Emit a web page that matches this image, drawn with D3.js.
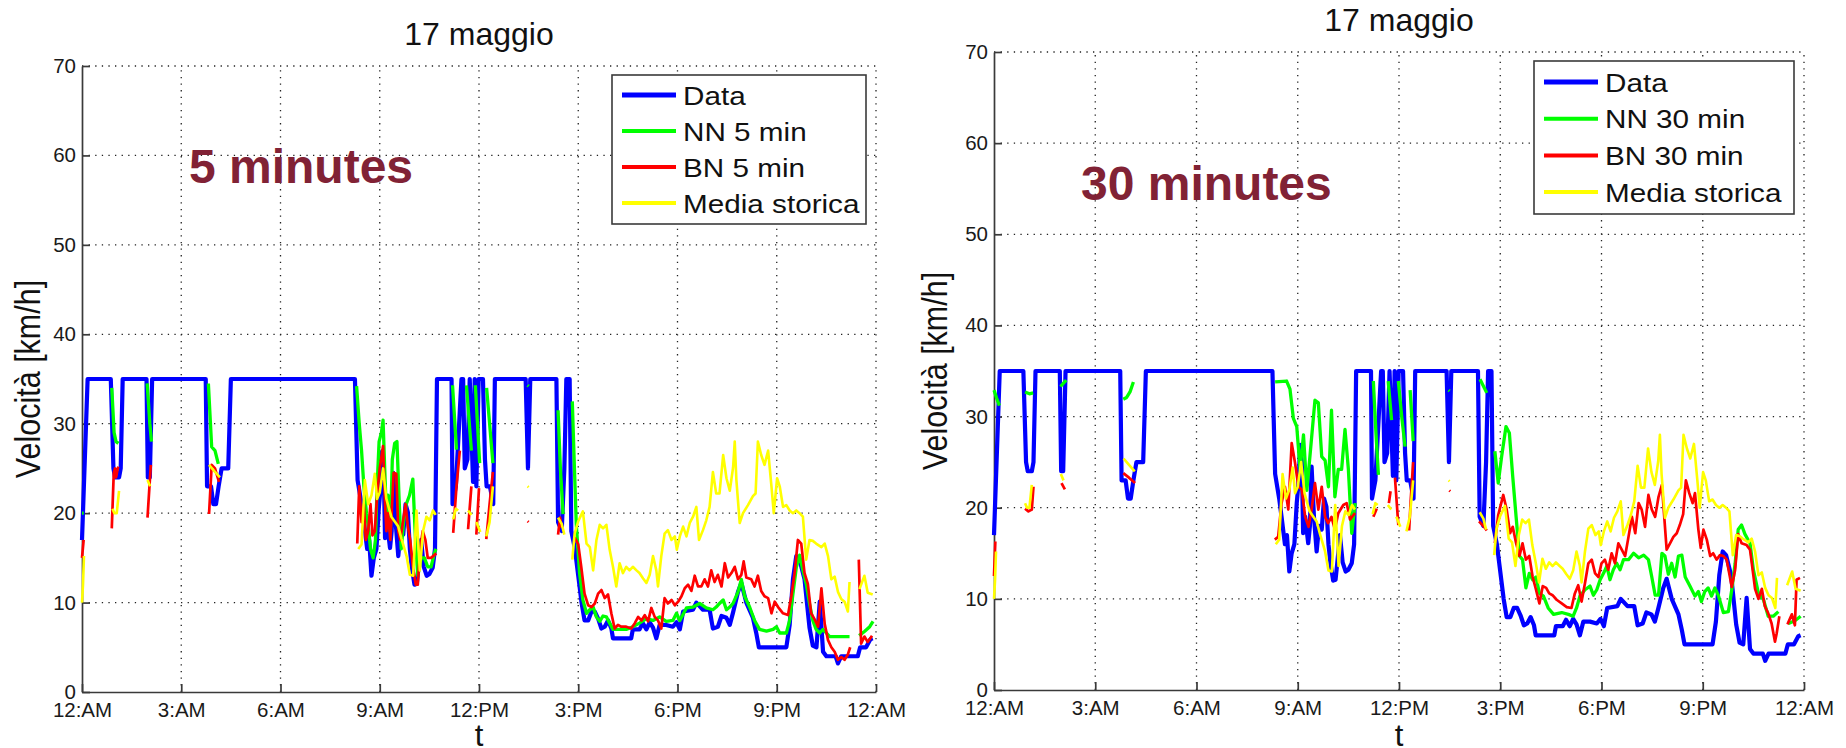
<!DOCTYPE html>
<html>
<head>
<meta charset="utf-8">
<script src="https://cdn.jsdelivr.net/npm/d3@7"></script>
<style>
  body { margin: 0; background: #fff; }
  text { font-family: "Liberation Sans", Arial, sans-serif; }
</style>
</head>
<body>
<svg id="chart" width="1846" height="748"></svg>
<script>
// axis ticks
const hourTicks = [0, 3, 6, 9, 12, 15, 18, 21, 24]
const hourLabels = ["12:AM", "3:AM", "6:AM", "9:AM", "12:PM", "3:PM", "6:PM", "9:PM", "12:AM"]
const speedTicks = [0, 10, 20, 30, 40, 50, 60, 70]

// measured speed, [hour, km/h]
const dataSpeed = [[0, 17], [0.17, 35], [0.87, 35], [0.95, 25], [1.0, 24], [1.12, 24], [1.17, 25], [1.23, 35],
  [1.95, 35], [1.99, 24], [2.05, 24], [2.12, 35], [3.74, 35], [3.78, 23], [3.9, 23], [3.97, 21], [4.05, 21],
  [4.13, 23], [4.22, 25], [4.42, 25], [4.5, 35], [8.25, 35],
  [8.33, 23.7], [8.45, 21], [8.52, 19], [8.62, 16], [8.68, 17], [8.75, 13], [8.82, 15], [8.9, 16], [8.97, 20.5],
  [9.03, 23], [9.07, 26.9], [9.12, 25], [9.16, 17.2], [9.22, 19], [9.31, 16.1], [9.36, 18], [9.41, 24.5],
  [9.48, 19], [9.56, 15.2], [9.63, 18], [9.71, 17.6], [9.78, 21], [9.85, 20.1], [9.91, 16], [9.97, 13.9],
  [10.05, 12], [10.12, 12.1], [10.2, 15], [10.25, 17], [10.33, 14], [10.42, 13], [10.5, 13.2], [10.6, 13.9],
  [10.67, 16], [10.73, 35], [11.17, 35], [11.2, 21], [11.3, 23], [11.4, 30], [11.47, 35], [11.52, 35],
  [11.57, 25], [11.65, 26], [11.72, 35], [11.82, 23.5], [11.87, 35], [11.92, 23], [11.99, 35], [12.12, 35],
  [12.18, 26], [12.23, 23], [12.33, 23], [12.43, 21], [12.48, 35], [13.41, 35], [13.48, 25], [13.55, 35],
  [14.34, 35], [14.39, 19], [14.5, 18], [14.58, 25], [14.64, 35], [14.74, 35], [14.79, 18], [14.9, 16],
  [15.0, 13], [15.1, 10], [15.19, 8], [15.3, 8], [15.4, 9], [15.5, 9], [15.6, 8.2], [15.7, 7.1], [15.8, 7.3],
  [15.9, 8], [16.0, 7.1], [16.05, 6], [16.6, 6], [16.65, 7], [16.85, 7], [16.95, 7.7], [17.06, 7], [17.16, 7.8],
  [17.26, 7.2], [17.36, 6], [17.46, 7.5], [17.66, 7.5], [17.86, 7.3], [17.97, 7.8], [18.07, 7], [18.17, 9],
  [18.47, 9.2], [18.57, 10], [18.77, 9.2], [18.97, 9.2], [19.07, 7.1], [19.22, 7.3], [19.33, 8.5], [19.48, 8.3],
  [19.58, 7.5], [19.68, 8.9], [19.83, 11.2], [19.93, 12.2], [20.08, 10], [20.28, 8.3], [20.38, 6.6], [20.46, 5],
  [21.29, 5], [21.39, 7.5], [21.49, 12.6], [21.59, 15.2], [21.69, 14.8], [21.84, 12.6], [21.99, 7.2],
  [22.09, 5.2], [22.2, 5], [22.3, 10.1], [22.4, 4.5], [22.5, 4], [22.78, 4], [22.85, 3.2], [22.95, 4],
  [23.45, 4], [23.52, 5], [23.7, 5], [23.83, 5.9], [23.9, 6]]

// historical mean, null = gap
const mediaSpeed = [[0, 10], [0.03, 12], [0.06, 15.2], null,
  [0.92, 20.5], [0.98, 20], [1.05, 20], [1.12, 22.5], null,
  [1.98, 23.7], [2.06, 23], null,
  [3.84, 25.4], [4.0, 24.7], [4.17, 24], null,
  [8.35, 16], [8.45, 16.5], [8.55, 23.7], [8.65, 21], [8.75, 22], [8.85, 24.4], [8.92, 21.6], [9.0, 22.3],
  [9.1, 25], [9.2, 21.6], [9.35, 19.6], [9.56, 18.5], [9.66, 17.1], [9.81, 15.2], [9.91, 13.1], [10.01, 13],
  [10.11, 20.3], [10.21, 13.6], [10.31, 18], [10.41, 19.6], [10.51, 19.2], [10.61, 20.3], [10.69, 19.8], null,
  [11.22, 19.3], [11.3, 20.5], [11.37, 20.3], null,
  [11.67, 20.3], [11.77, 19.8], null,
  [11.92, 19], [12.04, 17.9], null,
  [12.22, 17.4], [12.32, 19], [12.42, 23], null,
  [13.47, 23], [13.5, 22.9], null,
  [14.39, 19.5], [14.5, 18.8], [14.58, 17.6], null,
  [14.82, 14.8], [14.89, 17.7], [15.0, 19.1], [15.14, 20.2], [15.25, 16.6], [15.35, 16.2], [15.45, 13.6],
  [15.55, 17], [15.65, 18.7], [15.75, 18.3], [15.85, 18.7], [15.95, 15.9], [16.05, 14], [16.15, 11.8],
  [16.25, 14.4], [16.35, 13.3], [16.45, 14], [16.55, 13.6], [16.65, 14], [16.76, 13.6], [16.85, 13.3],
  [16.96, 12.7], [17.06, 12.2], [17.16, 13.1], [17.26, 15.2], [17.36, 13.6], [17.41, 11.8], [17.51, 15.2],
  [17.61, 17.7], [17.71, 18.1], [17.82, 17], [17.92, 17.4], [17.98, 15.9], [18.07, 17.4], [18.17, 18.5],
  [18.27, 17.4], [18.37, 18.9], [18.47, 19.6], [18.57, 20.7], [18.65, 17], [18.77, 18.1], [18.87, 19.2],
  [18.97, 20.7], [19.07, 24.6], [19.17, 22.2], [19.27, 22.2], [19.38, 26.5], [19.48, 23.9], [19.58, 22.5],
  [19.68, 25.1], [19.73, 28], [19.78, 23.7], [19.88, 18.9], [19.98, 20], [20.13, 20.9], [20.28, 21.9],
  [20.36, 22.2], [20.43, 28], [20.53, 26.5], [20.63, 25.4], [20.74, 27], [20.84, 23], [20.91, 20],
  [21.01, 23.9], [21.09, 23], [21.19, 20.7], [21.29, 20.9], [21.39, 20.3], [21.49, 20], [21.59, 20.3],
  [21.69, 20], [21.79, 19.6], [21.89, 14.8], [21.99, 17], [22.09, 16.9], [22.19, 16.6], [22.35, 16.2],
  [22.45, 16.6], [22.55, 15.2], [22.65, 12.6], [22.75, 12.9], [22.85, 11.2], [22.95, 10.4], [23.05, 10.1],
  [23.15, 9], [23.2, 12.3], null,
  [23.5, 11.5], [23.65, 13], [23.75, 11.1], [23.9, 10.9]]

// neural network, 5 min horizon
const nn5 = [[0, 20], [0.05, 20], null,
  [0.9, 34], [0.97, 29], [1.03, 28], [1.1, 27.8], null,
  [1.97, 34.5], [2.05, 30], [2.1, 28], null,
  [3.82, 34.5], [3.92, 27.4], [4.02, 27], [4.12, 25.5], null,
  [8.3, 34.2], [8.38, 30], [8.45, 27], [8.52, 23], [8.6, 20], [8.67, 18], [8.72, 16], [8.8, 15], [8.87, 17],
  [8.92, 23], [8.98, 28], [9.05, 29], [9.1, 30.4], [9.15, 25], [9.2, 20], [9.25, 22], [9.32, 18], [9.38, 26],
  [9.45, 27.8], [9.52, 28], [9.58, 22], [9.65, 16], [9.72, 19], [9.8, 21], [9.9, 22], [10.0, 23.8], [10.08, 17],
  [10.15, 13], [10.25, 15], [10.35, 15], [10.45, 14], [10.55, 14], [10.65, 15.5], [10.7, 16], null,
  [11.2, 34.3], [11.32, 27.1], null,
  [11.62, 34.3], [11.77, 27], null,
  [11.89, 34.3], [12.02, 25.6], null,
  [12.23, 34], [12.42, 25.6], null,
  [13.47, 34.3], [13.5, 34.2], null,
  [14.39, 31.5], [14.46, 25], [14.54, 19.9], null,
  [14.82, 32.5], [14.89, 24.4], [14.94, 18.8], [15.04, 13.3], [15.14, 10.3], [15.25, 8.8], [15.35, 9.2],
  [15.45, 9.5], [15.55, 8.4], [15.65, 7.9], [15.75, 8.5], [15.85, 8.4], [15.95, 7.7], [16.05, 7], [16.25, 7],
  [16.45, 7], [16.65, 7.3], [16.85, 7.7], [17.06, 8.2], [17.26, 8], [17.46, 8.4], [17.66, 7.9], [17.86, 8],
  [17.97, 8.8], [18.07, 8], [18.27, 9.4], [18.47, 9.5], [18.67, 9.9], [18.87, 9.4], [19.07, 9.2], [19.17, 9.5],
  [19.27, 9.9], [19.38, 10.3], [19.48, 9.2], [19.58, 9.5], [19.68, 9.9], [19.83, 11.2], [19.93, 12.6],
  [20.03, 10.7], [20.18, 9.5], [20.33, 8], [20.48, 7], [20.69, 6.8], [20.89, 7], [20.99, 7.3], [21.09, 6.6],
  [21.29, 6.6], [21.39, 8], [21.49, 11], [21.59, 13.9], [21.69, 15.3], [21.79, 13.6], [21.89, 12.1],
  [21.99, 9.9], [22.09, 8], [22.19, 7], [22.3, 6.6], [22.4, 7], [22.6, 6.2], [23.2, 6.2], null,
  [23.49, 6.3], [23.66, 6.8], [23.81, 7.3], [23.91, 7.9]]

// bayesian network, 5 min horizon
const bn5 = [[0, 15], [0.05, 17], null,
  [0.9, 18.3], [0.96, 24.5], [1.0, 25], [1.03, 24], [1.08, 25], [1.1, 25.2], null,
  [1.98, 19.5], [2.08, 25.4], null,
  [3.84, 19.9], [3.92, 25.4], [4.02, 25], [4.14, 23.5], null,
  [8.32, 16.6], [8.38, 23], [8.45, 19], [8.52, 21], [8.58, 17], [8.65, 18], [8.72, 21], [8.78, 17.5], [8.85, 18],
  [8.92, 22], [9.0, 25], [9.1, 27.5], [9.15, 22], [9.2, 18], [9.25, 20], [9.32, 17], [9.42, 24.5], [9.5, 24.4],
  [9.56, 18], [9.62, 17], [9.7, 19], [9.78, 21], [9.85, 18.5], [9.92, 17], [10.0, 14], [10.09, 12], [10.15, 12],
  [10.22, 16], [10.3, 18], [10.38, 17], [10.45, 15], [10.55, 15], [10.71, 15.5], null,
  [11.22, 17.8], [11.32, 23], [11.42, 27], null,
  [11.67, 18.2], [11.77, 23], null,
  [11.92, 17.6], [12.0, 22.8], null,
  [12.22, 17.1], [12.32, 21], [12.42, 24.6], null,
  [13.47, 19.1], [13.5, 19], null,
  [14.39, 17.6], [14.45, 19.5], [14.5, 18.4], null,
  [14.89, 17.3], [15.0, 16.5], [15.09, 14], [15.19, 11], [15.3, 9.7], [15.4, 9.5], [15.5, 9.9], [15.6, 11],
  [15.7, 11.4], [15.8, 10.5], [15.9, 10.9], [16.0, 8.8], [16.1, 7.1], [16.2, 7.5], [16.3, 7.3], [16.45, 7.3],
  [16.6, 7.1], [16.71, 7.7], [16.81, 8.4], [16.91, 8], [17.01, 8.6], [17.11, 7.9], [17.21, 9.4], [17.31, 8.4],
  [17.41, 8], [17.51, 7.1], [17.61, 10.5], [17.71, 9.9], [17.82, 10.3], [17.92, 9.7], [18.02, 10.1],
  [18.12, 10.7], [18.22, 11.6], [18.32, 12], [18.42, 11.3], [18.52, 13], [18.62, 11.8], [18.72, 11.8],
  [18.82, 12.6], [18.92, 11.8], [19.02, 13.6], [19.12, 12.3], [19.22, 13.1], [19.33, 11.8], [19.43, 14.4],
  [19.53, 12.8], [19.63, 13.3], [19.73, 14], [19.83, 12.6], [19.93, 13.1], [20.0, 14.6], [20.08, 12.8],
  [20.23, 12.6], [20.33, 11.8], [20.43, 13], [20.53, 11.3], [20.63, 10.7], [20.74, 10.5], [20.84, 8.8],
  [20.94, 10.1], [21.04, 9.5], [21.19, 8.8], [21.34, 8.6], [21.44, 10.7], [21.54, 13.3], [21.64, 17],
  [21.74, 16.6], [21.84, 13.3], [21.94, 12.1], [22.04, 8.8], [22.15, 8.1], [22.25, 7.3], [22.35, 11.6],
  [22.45, 7.6], [22.55, 5.8], [22.65, 5], [22.75, 4.5], [22.85, 3.6], [22.95, 3.9], [23.05, 3.6], [23.15, 4.2],
  [23.22, 5], null,
  [23.48, 14.8], [23.55, 5.4], [23.65, 6.2], [23.75, 5.6], [23.88, 6.3]]

// neural network, 30 min horizon
const nn30 = [[0, 32.9], [0.08, 32], [0.16, 31.2], null,
  [0.92, 32.7], [1.05, 32.5], [1.16, 32.6], null,
  [1.97, 33.3], [2.14, 34], null,
  [3.83, 31.9], [3.93, 32.1], [4.03, 32.7], [4.13, 33.8], null,
  [8.33, 33.8], [8.67, 33.9], [8.77, 33], [8.87, 29.8], [8.97, 28.9], [9.07, 24.2], [9.17, 28], [9.27, 21.9],
  [9.36, 25.6], [9.51, 31.8], [9.61, 31.5], [9.71, 25.6], [9.81, 25.2], [9.91, 22.3], [10.0, 30.7],
  [10.1, 21.2], [10.2, 24.2], [10.3, 24.2], [10.4, 28.6], [10.5, 24.2], [10.6, 17.2], [10.7, 20.5], null,
  [11.24, 33.9], [11.32, 28], [11.39, 23.6], null,
  [11.68, 33.9], [11.78, 29.6], null,
  [11.98, 33.9], [12.08, 30], [12.18, 26.7], null,
  [12.33, 32.9], [12.42, 27.3], null,
  [13.47, 32.9], [13.5, 32.8], null,
  [14.4, 34.1], [14.6, 32.6], null,
  [14.84, 26.2], [14.94, 22.7], [15.04, 25.6], [15.17, 28.9], [15.27, 28.2], [15.37, 23.4], [15.47, 19],
  [15.57, 14.7], [15.66, 14.3], [15.76, 11.2], [15.86, 12.8], [15.96, 12.1], [16.06, 12.4], [16.16, 10.6],
  [16.28, 10.3], [16.42, 9], [16.58, 8.3], [16.82, 8.5], [17.02, 8.3], [17.16, 8.1], [17.26, 9], [17.36, 10.3],
  [17.51, 11], [17.66, 11.4], [17.76, 10.4], [17.86, 11], [17.96, 12.1], [18.06, 12.8], [18.16, 13.6],
  [18.25, 12.1], [18.35, 13.2], [18.45, 13.9], [18.55, 13.2], [18.65, 14.3], [18.8, 14.3], [18.95, 15],
  [19.1, 14.5], [19.25, 14.8], [19.39, 14.3], [19.49, 12.4], [19.59, 10.4], [19.69, 10.4], [19.79, 15],
  [19.88, 14.7], [19.98, 12.7], [20.08, 13.9], [20.18, 12.4], [20.28, 14.7], [20.38, 14.8], [20.48, 12.4],
  [20.62, 11.4], [20.77, 10.3], [20.87, 10.8], [20.96, 9.7], [21.06, 10.8], [21.16, 11.2], [21.26, 10.3],
  [21.36, 11.2], [21.46, 10.4], [21.61, 8.5], [21.76, 8.6], [21.86, 11], [21.96, 13.9], [22.05, 17.6],
  [22.15, 18.1], [22.25, 17.1], [22.4, 16.1], [22.5, 13.2], [22.65, 10.6], [22.8, 9.9], [22.94, 8.1],
  [23.09, 8.1], [23.24, 8.6], null,
  [23.54, 7.3], [23.73, 7.6], [23.9, 8.1]]

// bayesian network, 30 min horizon
const bn30 = [[0, 12.5], [0.04, 16.3], null,
  [0.92, 19.9], [1.02, 19.6], [1.12, 19.8], [1.17, 22.3], null,
  [2.0, 22.7], [2.1, 22], null,
  [3.83, 23.8], [4.0, 23.3], [4.18, 22.7], null,
  [8.32, 16.5], [8.42, 16.8], [8.52, 20.5], [8.62, 22.3], [8.72, 19.8], [8.82, 27.1], [8.92, 24.9],
  [9.02, 22.3], [9.12, 22], [9.22, 19], [9.32, 17.9], [9.41, 19.8], [9.51, 22.7], [9.61, 19.8], [9.71, 22.3],
  [9.81, 19], [9.9, 18.3], [10.0, 19], [10.1, 17.6], [10.2, 19.4], [10.35, 20.3], [10.45, 20.5], [10.55, 18.7],
  [10.65, 19.2], [10.7, 19.4], null,
  [11.24, 19], [11.34, 19.9], null,
  [11.7, 20.5], [11.75, 21.8], null,
  [11.88, 23.3], [11.98, 18.1], null,
  [12.3, 17.5], [12.35, 21], [12.42, 25], null,
  [13.49, 21.9], [13.52, 21.8], null,
  [14.37, 18.5], [14.5, 18], [14.6, 17.5], null,
  [14.84, 16.1], [14.94, 19.2], [15.09, 21.4], [15.19, 19.8], [15.29, 17.2], [15.37, 17.9], [15.47, 16.1],
  [15.57, 14.7], [15.66, 16.1], [15.76, 14.3], [15.86, 14.7], [15.96, 12.4], [16.06, 11], [16.16, 9.5],
  [16.26, 11.4], [16.36, 11.2], [16.45, 10.6], [16.55, 10.4], [16.67, 9.9], [16.82, 9.5], [16.97, 9.1],
  [17.11, 9], [17.21, 10.6], [17.31, 11.5], [17.41, 9.7], [17.51, 11.7], [17.61, 13.9], [17.71, 14.3],
  [17.81, 12.8], [17.91, 12.4], [18.0, 13.9], [18.1, 14.3], [18.2, 13.2], [18.3, 15], [18.4, 13.9],
  [18.5, 16.1], [18.6, 15.4], [18.7, 14.7], [18.8, 16.8], [18.9, 19], [19.0, 17.2], [19.1, 20.5],
  [19.19, 19.8], [19.29, 17.9], [19.39, 21.4], [19.49, 19.8], [19.59, 19], [19.69, 21.2], [19.79, 22.5],
  [19.93, 15.4], [20.03, 16.1], [20.13, 16.8], [20.23, 17.2], [20.32, 18.1], [20.42, 19.3], [20.5, 23],
  [20.6, 21.6], [20.7, 20.5], [20.77, 21.6], [20.87, 17.6], [20.94, 15.6], [21.02, 17.6], [21.12, 16.5],
  [21.22, 14.7], [21.31, 15], [21.41, 14.3], [21.51, 14.8], [21.61, 14.7], [21.71, 14.3], [21.86, 11.3],
  [21.96, 13.2], [22.05, 17.1], [22.15, 16.1], [22.3, 15.9], [22.4, 15.4], [22.45, 14], [22.55, 11.1],
  [22.65, 10], [22.75, 11.1], [22.84, 9.2], [22.94, 8.4], [23.04, 7.3], [23.14, 5.3], [23.19, 6.2],
  [23.27, 8.1], null,
  [23.51, 7.2], [23.64, 8.3], [23.73, 7.1], [23.78, 12.1], [23.88, 12.3]]

// series styling
const seriesColors = ["#0000ff", "#00ff00", "#ff0000", "#ffff00"]
const seriesWidths = [4.2, 3.3, 2.7, 2.6]

// the two panels
const panels = [
  {
    left: 82, right: 876, top: 66, bottom: 692,
    series: [dataSpeed, nn5, bn5, mediaSpeed],
    names: ["Data", "NN 5 min", "BN 5 min", "Media storica"],
    tag: "5 minutes", tagX: 189, tagY: 183,
    legend: { x: 612, y: 75, w: 254, h: 149, row0: 95, step: 36 },
    ylabelX: 40
  },
  {
    left: 994, right: 1804, top: 52, bottom: 690,
    series: [dataSpeed, nn30, bn30, mediaSpeed],
    names: ["Data", "NN 30 min", "BN 30 min", "Media storica"],
    tag: "30 minutes", tagX: 1081, tagY: 200,
    legend: { x: 1534, y: 61, w: 260, h: 153, row0: 82, step: 36.7 },
    ylabelX: 947
  }
]

let svg = d3.select("#chart")

panels.forEach(function (p) {
  let xScale = d3.scaleLinear().domain([0, 24]).range([p.left, p.right])
  let yScale = d3.scaleLinear().domain([0, 70]).range([p.bottom, p.top])
  let g = svg.append("g")

  // dotted grid
  g.selectAll(".vgrid")
    .data(hourTicks.slice(1))
    .enter()
    .append("line")
    .attr("x1", d => xScale(d)).attr("x2", d => xScale(d))
    .attr("y1", p.bottom).attr("y2", p.top)
    .attr("stroke", "#222").attr("stroke-width", 1.3)
    .attr("stroke-dasharray", "1.3 5.3")

  g.selectAll(".hgrid")
    .data(speedTicks.slice(1))
    .enter()
    .append("line")
    .attr("x1", p.left).attr("x2", p.right)
    .attr("y1", d => yScale(d)).attr("y2", d => yScale(d))
    .attr("stroke", "#222").attr("stroke-width", 1.3)
    .attr("stroke-dasharray", "1.3 5.3")

  // axes
  let xAxis = d3.axisBottom(xScale)
    .tickValues(hourTicks)
    .tickFormat((d, i) => hourLabels[i])
    .tickSizeInner(-8).tickSizeOuter(0).tickPadding(10)

  let yAxis = d3.axisLeft(yScale)
    .tickValues(speedTicks)
    .tickSizeInner(-8).tickSizeOuter(0).tickPadding(6)

  let gx = g.append("g").attr("transform", `translate(0,${p.bottom})`).call(xAxis)
  let gy = g.append("g").attr("transform", `translate(${p.left},0)`).call(yAxis)

  ;[gx, gy].forEach(function (ax) {
    ax.attr("font-family", null).attr("font-size", 20.5)
    ax.selectAll("path, line").attr("stroke", "#3a3a3a").attr("stroke-width", 1.7)
    ax.selectAll("text").attr("fill", "#1a1a1a")
  })

  // series lines, data first so the forecasts sit on top
  let line = d3.line()
    .defined(d => d !== null)
    .x(d => xScale(d[0]))
    .y(d => yScale(d[1]))

  p.series.forEach(function (s, i) {
    g.append("path")
      .datum(s)
      .attr("d", line)
      .attr("fill", "none")
      .attr("stroke", seriesColors[i])
      .attr("stroke-width", seriesWidths[i])
      .attr("stroke-linejoin", "round")
  })

  // title and axis labels
  let cx = (p.left + p.right) / 2
  g.append("text")
    .attr("x", cx).attr("y", p.top - 21)
    .attr("text-anchor", "middle")
    .style("font-size", "32px")
    .attr("fill", "#111")
    .text("17 maggio")

  g.append("text")
    .attr("x", cx).attr("y", 746)
    .attr("text-anchor", "middle")
    .style("font-size", "31px")
    .attr("fill", "#111")
    .text("t")

  g.append("text")
    .attr("transform", `translate(${p.ylabelX},${(p.top + p.bottom) / 2}) rotate(-90) scale(1,1.12)`)
    .attr("text-anchor", "middle")
    .style("font-size", "30.5px")
    .attr("fill", "#111")
    .text("Velocità [km/h]")

  // annotation
  g.append("text")
    .attr("x", p.tagX).attr("y", p.tagY)
    .style("font-size", "48px")
    .style("font-weight", "bold")
    .attr("fill", "#812235")
    .text(p.tag)

  // legend
  let lg = p.legend
  g.append("rect")
    .attr("x", lg.x).attr("y", lg.y)
    .attr("width", lg.w).attr("height", lg.h)
    .attr("fill", "#fff")
    .attr("stroke", "#3a3a3a").attr("stroke-width", 1.6)

  p.names.forEach(function (name, i) {
    let ly = lg.row0 + i * lg.step
    g.append("line")
      .attr("x1", lg.x + 10).attr("x2", lg.x + 64)
      .attr("y1", ly).attr("y2", ly)
      .attr("stroke", seriesColors[i])
      .attr("stroke-width", i == 0 ? 5 : 4)
    g.append("text")
      .attr("transform", `translate(${lg.x + 71},${ly + 9.5}) scale(1.12,1)`)
      .style("font-size", "26.5px")
      .attr("fill", "#111")
      .text(name)
  })
})
</script>
</body>
</html>
